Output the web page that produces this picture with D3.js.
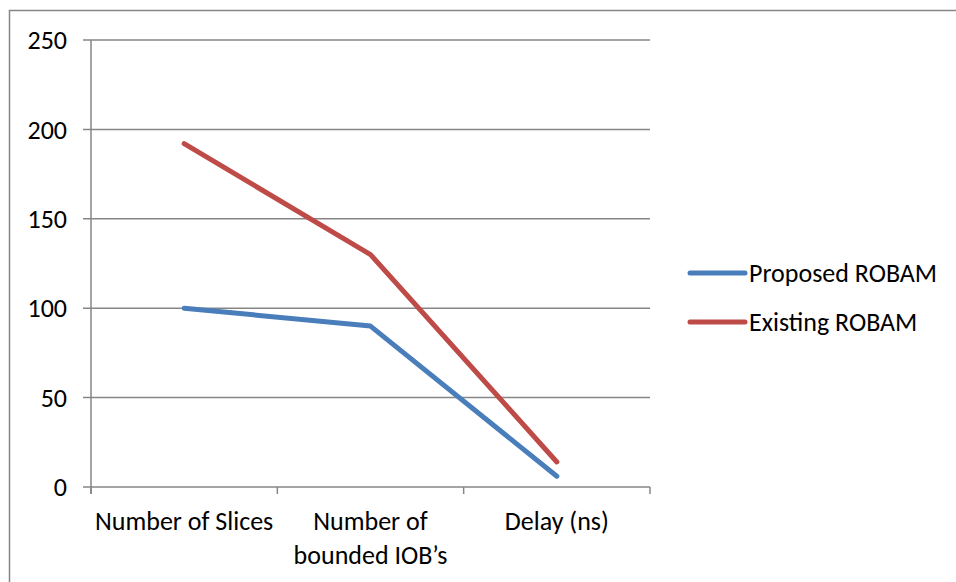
<!DOCTYPE html>
<html><head><meta charset="utf-8">
<script src="https://cdn.jsdelivr.net/npm/d3@7"></script>
<style>body{margin:0;background:#fff}svg{display:block}text{font-family:Carlito,"Liberation Sans",Arial,sans-serif}</style>
</head><body><svg width="956" height="582"></svg>
<script>
const categories = [["Number of Slices"], ["Number of", "bounded IOB\u2019s"], ["Delay (ns)"]];
const seriesNames = ["Proposed ROBAM", "Existing ROBAM"];
const proposed = [100, 90, 6];
const existing = [192, 130, 14];
const yTicks = [0, 50, 100, 150, 200, 250];
const colors = ["#4A7EBB", "#BE4B48"];

const svg = d3.select("svg");
svg.append("rect").attr("x", 9.5).attr("y", 10.5).attr("width", 1000).attr("height", 1000)
  .attr("fill", "none").attr("stroke", "#868686").attr("stroke-width", 1.5);

const x0 = 91, x1 = 650, yTop = 40, yBot = 487;
const x = d3.scaleBand().domain(d3.range(categories.length)).range([x0, x1]);
const y = d3.scaleLinear().domain([0, 250]).range([yBot, yTop]);

const g = svg.append("g");
g.selectAll(".grid").data(yTicks).join("line")
  .attr("x1", x0 - 8).attr("x2", x1).attr("y1", d => y(d)).attr("y2", d => y(d))
  .attr("stroke", "#868686").attr("stroke-width", 1.5);
g.append("line").attr("x1", x0).attr("x2", x0).attr("y1", yTop).attr("y2", yBot + 7)
  .attr("stroke", "#868686").attr("stroke-width", 1.5);
const bounds = d3.range(categories.length + 1).map(i => i < categories.length ? x(i) : x1);
g.selectAll(".xt").data(bounds).join("line")
  .attr("x1", d => d).attr("x2", d => d).attr("y1", yBot).attr("y2", yBot + 7)
  .attr("stroke", "#868686").attr("stroke-width", 1.5);
g.selectAll(".yl").data(yTicks).join("text")
  .attr("x", 67).attr("y", d => y(d)).attr("dy", "0.35em").attr("text-anchor", "end")
  .attr("font-size", 26).attr("fill", "#000").text(d => d);
categories.forEach((lines, i) => {
  lines.forEach((t, j) => {
    g.append("text").attr("x", x(i) + x.bandwidth() / 2).attr("y", 521 + j * 34).attr("dy", "0.35em")
      .attr("text-anchor", "middle").attr("font-size", 26).attr("fill", "#000").text(t);
  });
});
const line = d3.line().x((d, i) => x(i) + x.bandwidth() / 2).y(d => y(d));
[proposed, existing].forEach((s, k) => {
  g.append("path").attr("d", line(s)).attr("fill", "none").attr("stroke", colors[k])
    .attr("stroke-width", 5).attr("stroke-linecap", "round").attr("stroke-linejoin", "round");
});
seriesNames.forEach((n, k) => {
  const ly = 273 + k * 49;
  g.append("line").attr("x1", 690).attr("x2", 745).attr("y1", ly).attr("y2", ly)
    .attr("stroke", colors[k]).attr("stroke-width", 5).attr("stroke-linecap", "round");
  g.append("text").attr("x", 749).attr("y", ly).attr("dy", "0.35em").attr("font-size", 26)
    .attr("fill", "#000").text(n);
});
</script></body></html>
